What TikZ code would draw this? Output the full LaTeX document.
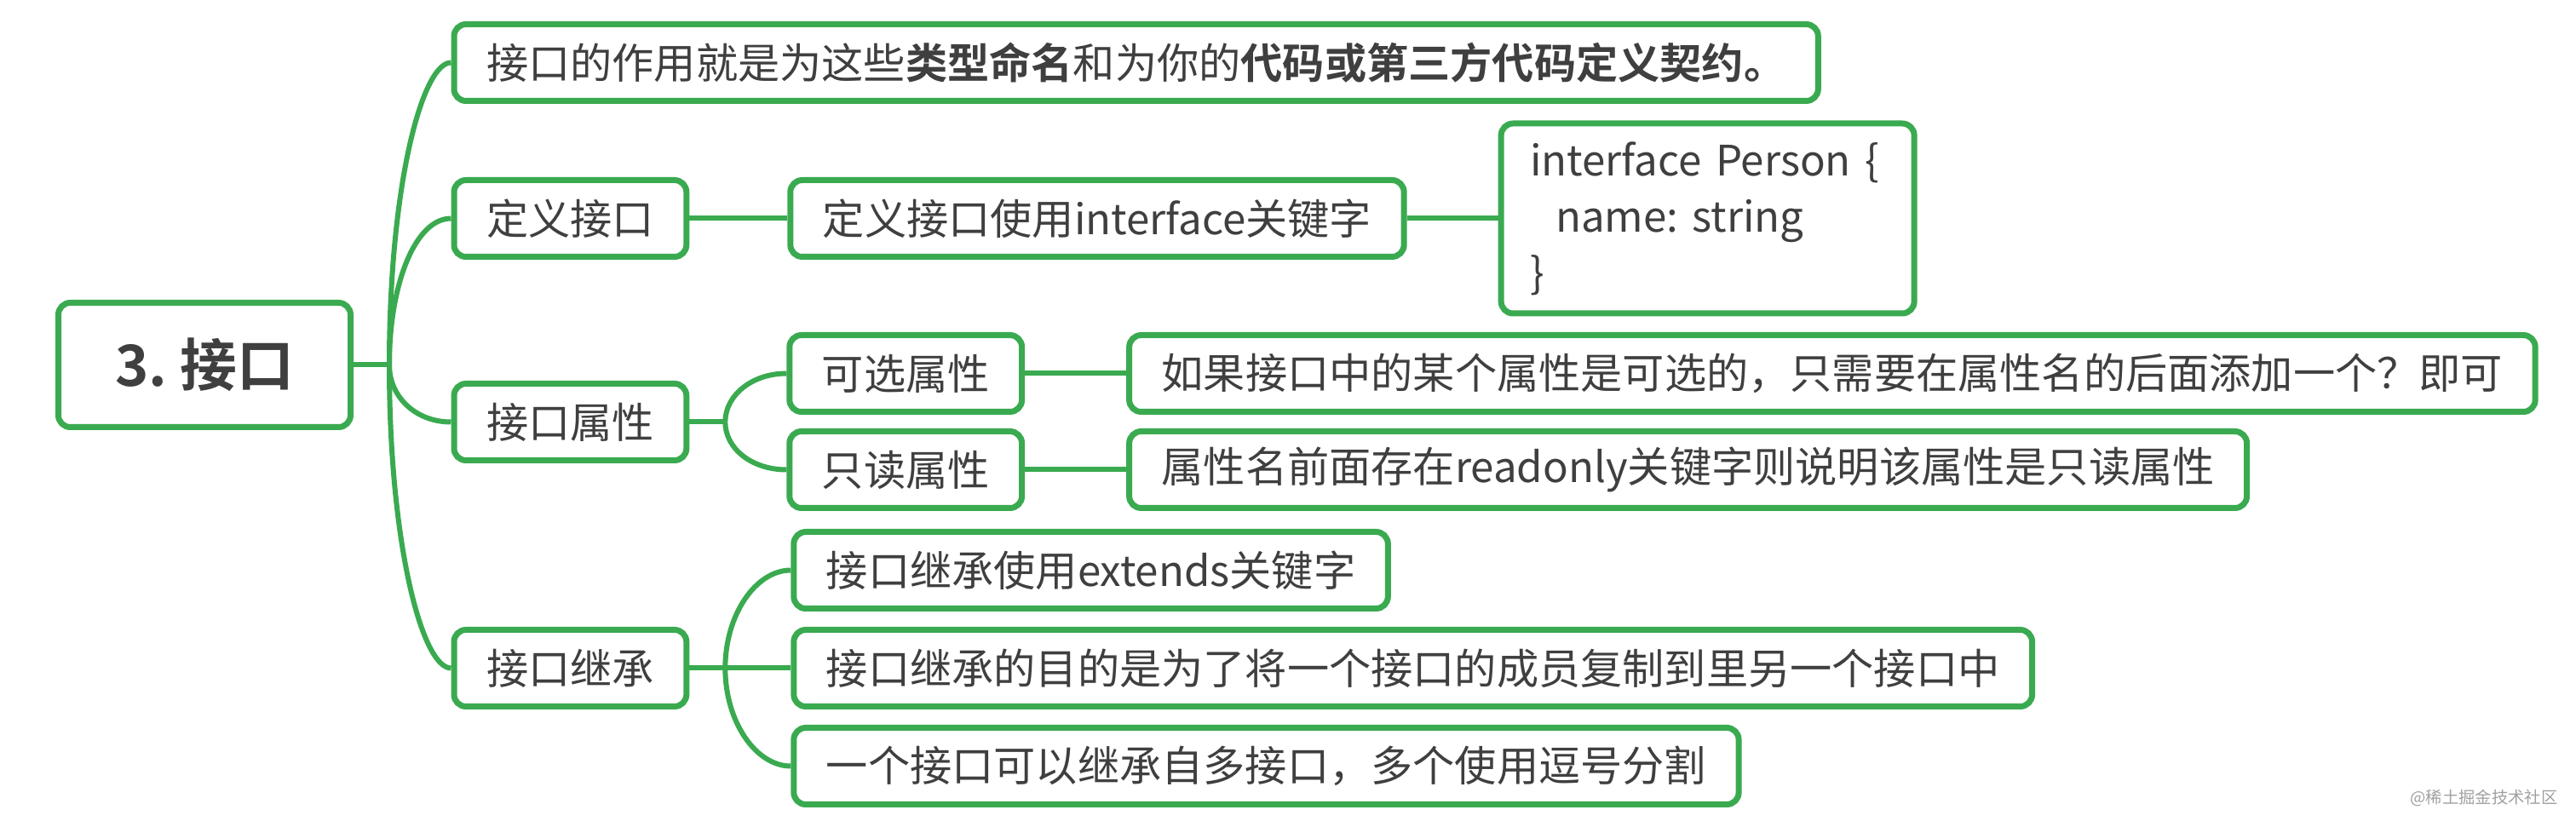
\documentclass[tikz,border=0pt]{standalone}
\usepackage{fontspec}
\setmainfont{Noto Sans CJK SC}[BoldFont={Noto Sans CJK SC Bold}]
\usepackage{tikz}
\usetikzlibrary{positioning}
\definecolor{mapgreen}{HTML}{3AAA50}
\definecolor{maptext}{HTML}{3F3F3F}
\definecolor{stampgray}{HTML}{A0A0A0}
\frenchspacing

\begin{document}
\begin{tikzpicture}[
  topicbox/.style={draw=mapgreen, line width=0.7mm, rounded corners=1.4mm, fill=white, text=maptext,
    font=\fontsize{14pt}{17pt}\selectfont, inner xsep=3.8mm, inner ysep=0mm, minimum height=9mm, anchor=west},
  centralbox/.style={topicbox, anchor=center, font=\fontsize{19pt}{23pt}\selectfont\bfseries,
    minimum width=34.3mm, minimum height=14.6mm},
  codebox/.style={topicbox, align=left, inner xsep=3.4mm, text width=41.7mm, minimum height=22.3mm,
    font=\fontsize{14pt}{6.6mm}\selectfont},
  linkline/.style={draw=mapgreen, line width=0.6mm},
]
  \useasboundingbox (0,0) rectangle (302.4mm,-97.1mm);

  % Center
  \node[centralbox] (root) at (24mm,-42.85mm) {3. 接口};
  \coordinate[right=4.2mm of root] (rootjoint);

  % First level
  \node[topicbox] (role) at (52.95mm,-7.35mm) {接口的作用就是为这些\textbf{类型命名}和为你的\textbf{代码或第三方代码定义契约。}};
  \node[topicbox] (define) at (52.95mm,-25.65mm) {定义接口};
  \node[topicbox] (props) at (52.95mm,-49.55mm) {接口属性};
  \node[topicbox] (inherit) at (52.95mm,-78.45mm) {接口继承};

  \draw[linkline] (root) -- (rootjoint);
  \draw[linkline] (rootjoint) .. controls +(0,21mm) and +(-3.4mm,0) .. (role.west);
  \draw[linkline] (rootjoint) .. controls +(0,9.5mm) and +(-4.2mm,0) .. (define.west);
  \draw[linkline] (rootjoint) .. controls +(0,-3.7mm) and +(-4.2mm,0) .. (props.west);
  \draw[linkline] (rootjoint) .. controls +(0,-21mm) and +(-3.4mm,0) .. (inherit.west);

  % Define
  \node[topicbox, right=11.5mm of define] (definekw) {定义接口使用interface关键字};
  \node[codebox, right=10.7mm of definekw] (definecode) {interface~Person~\{\\\hspace*{3mm}name:~string\\\}};
  \draw[linkline] (define) -- (definekw);
  \draw[linkline] (definekw) -- (definecode);

  % Properties
  \coordinate[right=4.2mm of props] (propsjoint);
  \node[topicbox, right=11.4mm of props, yshift=5.7mm] (optional) {可选属性};
  \node[topicbox, right=11.4mm of props, yshift=-5.6mm] (readonly) {只读属性};
  \node[topicbox, right=11.9mm of optional] (optionalnote) {如果接口中的某个属性是可选的，只需要在属性名的后面添加一个？即可};
  \node[topicbox, right=11.9mm of readonly] (readonlynote) {属性名前面存在readonly关键字则说明该属性是只读属性};
  \draw[linkline] (props) -- (propsjoint);
  \draw[linkline] (propsjoint) .. controls +(0,3.1mm) and +(-4.1mm,0) .. (optional.west);
  \draw[linkline] (propsjoint) .. controls +(0,-3.1mm) and +(-4.1mm,0) .. (readonly.west);
  \draw[linkline] (optional) -- (optionalnote);
  \draw[linkline] (readonly) -- (readonlynote);

  % Inheritance
  \coordinate[right=4.2mm of inherit] (inheritjoint);
  \node[topicbox, right=11.9mm of inherit, yshift=11.5mm] (extendskw) {接口继承使用extends关键字};
  \node[topicbox, right=11.9mm of inherit] (extendsaim) {接口继承的目的是为了将一个接口的成员复制到里另一个接口中};
  \node[topicbox, right=11.9mm of inherit, yshift=-11.5mm] (extendsmany) {一个接口可以继承自多接口，多个使用逗号分割};
  \draw[linkline] (inherit) -- (inheritjoint);
  \draw[linkline] (inheritjoint) .. controls +(0,6.3mm) and +(-4.1mm,0) .. (extendskw.west);
  \draw[linkline] (inheritjoint) -- (extendsaim);
  \draw[linkline] (inheritjoint) .. controls +(0,-6.3mm) and +(-4.1mm,0) .. (extendsmany.west);

  % Watermark
  \node[text=stampgray, font=\fontsize{5.5pt}{6pt}\selectfont] (stamp) at (291.6mm,-93.7mm) {@稀土掘金技术社区};
\end{tikzpicture}
\end{document}
